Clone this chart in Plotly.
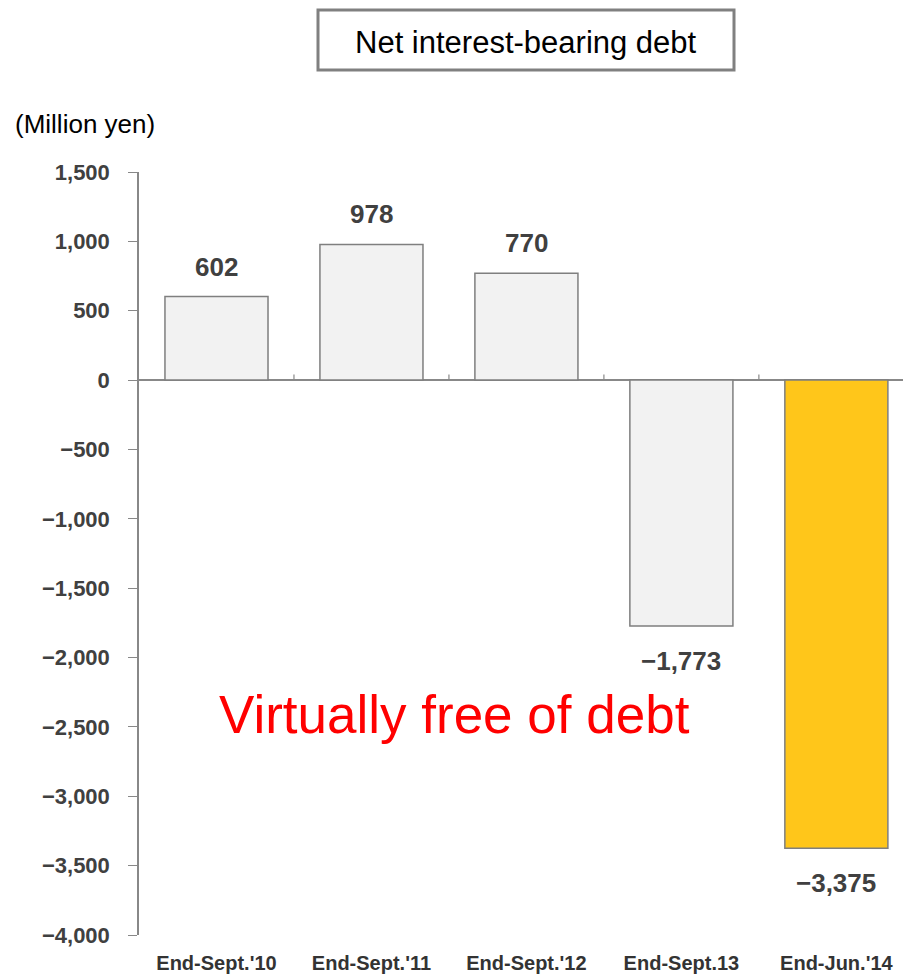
import plotly.graph_objects as go

# Net interest-bearing debt by period end (million yen)
categories = ["End-Sept.'10", "End-Sept.'11", "End-Sept.'12", "End-Sept.13", "End-Jun.'14"]
values = [602, 978, 770, -1773, -3375]
bar_colors = ["#F2F2F2", "#F2F2F2", "#F2F2F2", "#F2F2F2", "#FFC61A"]
y_ticks = [1500, 1000, 500, 0, -500, -1000, -1500, -2000, -2500, -3000, -3500, -4000]

x_pos = list(range(len(categories)))

fig = go.Figure()
fig.add_trace(go.Bar(
    x=x_pos, y=values, width=0.665,
    marker=dict(color=bar_colors, line=dict(color="#7F7F7F", width=1.5)),
    hoverinfo="skip",
))

label_font = dict(family="Liberation Sans, Arial", size=26, color="#404040")
for xi, v in zip(x_pos, values):
    label = f"{v:,}".replace("-", "\u2212")
    fig.add_annotation(
        x=xi, y=v, text=f"<b>{label}</b>", showarrow=False,
        yshift=30 if v >= 0 else -35, font=label_font,
        xref="x", yref="y", yanchor="middle",
    )

# small tick marks on the zero line between categories
for b in [0.5, 1.5, 2.5, 3.5]:
    fig.add_shape(type="line", x0=b, x1=b, y0=0, y1=40,
                  xref="x", yref="y", line=dict(color="#888888", width=1.2))

tick_text = [f"<b>{t:,}</b>".replace("-", "\u2212") for t in y_ticks]

fig.update_layout(
    width=903, height=974,
    margin=dict(l=139, r=0, t=172, b=39),
    plot_bgcolor="white", paper_bgcolor="white",
    showlegend=False,
    xaxis=dict(
        range=[-0.5, 4.43], tickvals=x_pos,
        ticktext=[f"<b>{c}</b>" for c in categories],
        tickfont=dict(family="Liberation Sans, Arial", size=20, color="#333333"),
        showline=False, showgrid=False, zeroline=False, ticks="",
        ticklabelstandoff=14,
    ),
    yaxis=dict(
        range=[-4000, 1500], tickvals=y_ticks, ticktext=tick_text,
        tickfont=dict(family="Liberation Sans, Arial", size=22, color="#404040"),
        showline=True, linecolor="#888888", linewidth=1.5,
        ticks="outside", ticklen=9, tickcolor="#888888", tickwidth=1.2,
        showgrid=False, zeroline=True, zerolinecolor="#888888", zerolinewidth=1.5,
        ticklabelstandoff=14,
    ),
)


def px_x(px):
    return (px - 139) / 764


def px_y(px):
    return (935 - px) / 763


# title box
fig.add_shape(type="rect", xref="paper", yref="paper",
              x0=px_x(318), x1=px_x(734), y0=px_y(70), y1=px_y(10),
              line=dict(color="#808080", width=3), fillcolor="white")
fig.add_annotation(x=px_x(526), y=px_y(42), xref="paper", yref="paper",
                   xanchor="center", yanchor="middle",
                   text="Net interest-bearing debt", showarrow=False,
                   font=dict(family="Liberation Sans, Arial", size=31, color="#000000"))

fig.add_annotation(x=px_x(13), y=px_y(124), xref="paper", yref="paper",
                   xanchor="left", yanchor="middle", text="(Million yen)", showarrow=False,
                   font=dict(family="Liberation Sans, Arial", size=26, color="#000000"))

fig.add_annotation(x=px_x(454), y=px_y(714), xref="paper", yref="paper",
                   xanchor="center", yanchor="middle",
                   text="Virtually free of debt", showarrow=False,
                   font=dict(family="Liberation Sans, Arial", size=53, color="#FF0000"))

fig.write_html("out.html")
